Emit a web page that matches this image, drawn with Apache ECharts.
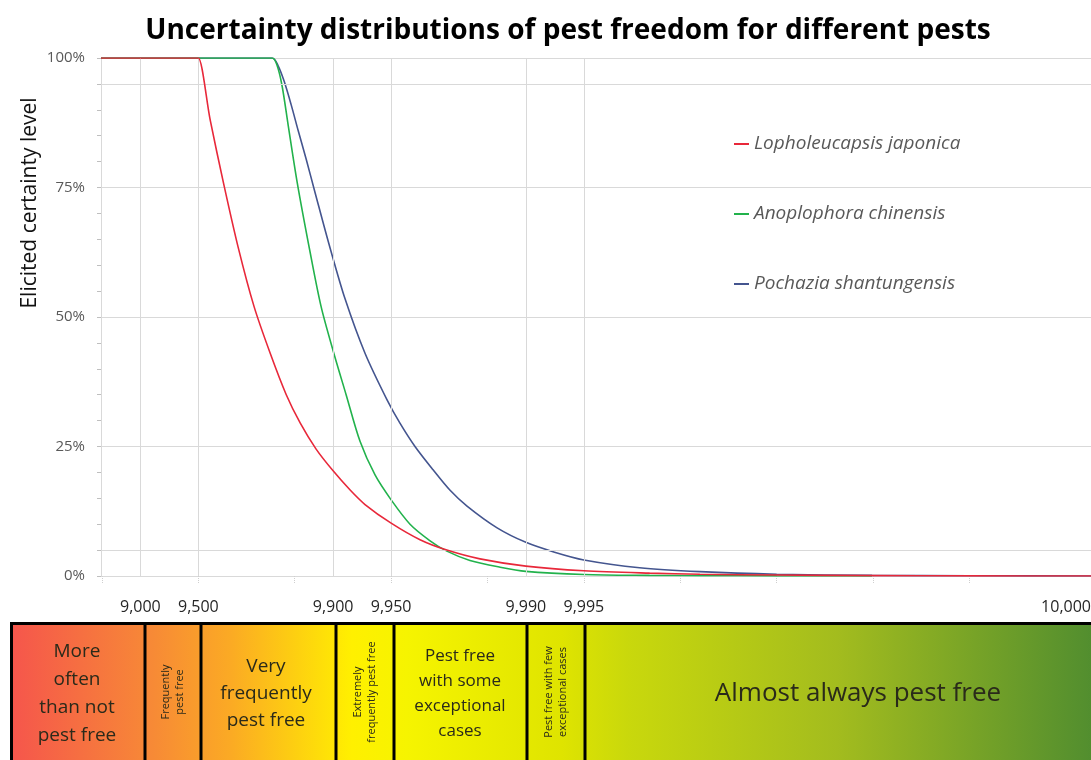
<!DOCTYPE html>
<html>
<head>
<meta charset="utf-8">
<script src="https://cdn.jsdelivr.net/npm/echarts@6/dist/echarts.min.js"></script>
<style>
html,body{margin:0;padding:0;background:#fff;}
#chart{width:1091px;height:760px;}
</style>
</head>
<body>
<div id="chart"></div>
<script>
// ---- data (x = pest-free units out of 10,000; y = elicited certainty, %) ----
const totalUnits = 10000;
const seriesNames = ['Lopholeucapsis japonica', 'Anoplophora chinensis', 'Pochazia shantungensis'];
const redX   = [8400, 9495, 9500, 9566, 9629, 9689, 9743, 9788, 9825, 9852, 9877.5, 9900, 9918.4, 9931.7, 9950, 9964.6, 9974.3, 9982.7, 9990, 9995, 9997.72, 9998.75, 9999.5, 9999.84, 9999.95, 9999.99];
const redY   = [100,  100,  100,  88,   76,   63.5, 52,   43,   35,   29.5, 24.5,   20.3, 16.6,   13.8,   10.2, 7,      5,      3.3,    1.9,  1.0,  0.55,    0.35,    0.18,   0.07,    0.02,    0];
const greenX = [8400, 9793, 9805, 9816.3, 9829, 9846.4, 9868.4, 9884.6, 9900, 9914.4, 9927.5, 9939.4, 9950, 9960.1, 9968.6, 9974.3, 9980.5, 9986.4, 9990, 9995, 9997.72, 9998.75, 9999.5, 9999.84];
const greenY = [100,  100,  98.5, 94.5,   87,   76,     62.5,   52,     43.5, 35,     26,     19.5,   14.7, 10,     6.8,    4.8,    3.0,    1.7,    0.9,  0.3,  0.12,    0.06,    0.02,   0];
const blueX  = [8400, 9793, 9807.2, 9820.6, 9834.9, 9848.2, 9862, 9876, 9895.1, 9913.3, 9931.7, 9947.5, 9955, 9962.4, 9969.7, 9975.2, 9979.8, 9985.9, 9990, 9992.9, 9995, 9997.43, 9998.75, 9999.5, 9999.84, 9999.95, 9999.99];
const blueY  = [100,  100,  98.5,   95.5,   91,     86,     80.5, 74,   64,     53.5,   43,     34,     29.5, 25,     20.5,   16.6,   13.5,   9.3,    6.5,  4.6,    3.1,  1.6,     0.85,    0.35,   0.12,    0.04,    0];
const gridCounts = [9000, 9500, 9900, 9950, 9990, 9995];
const tickLabelCounts = [9000, 9500, 9900, 9950, 9990, 9995, 10000];
const extraYGrid = [5, 95];
const bandLabels = [
  'More\noften\nthan not\npest free',
  'Frequently\npest free',
  'Very\nfrequently\npest free',
  'Extremely\nfrequently pest free',
  'Pest free\nwith some\nexceptional\ncases',
  'Pest free with few\nexceptional cases',
  'Almost always pest free'
];

// axis: number of NOT pest-free units, on an inverted log scale
const axisLeftN = 1600;     // left edge
const axisRightN = 0.0117;  // right edge (shown as 10,000)
const toN = c => Math.max(totalUnits - c, 1e-6);
const pairs = (xs, ys) => xs.map((x, i) => [toN(x), ys[i]]);

const colors = ['#e8283a', '#22b24c', '#44558f'];
const font = "'Open Sans', 'DejaVu Sans', sans-serif";

const chart = echarts.init(document.getElementById('chart'), null, {renderer: 'canvas'});

const lineSeries = [redX, greenX, blueX].map((xs, i) => ({
  name: seriesNames[i],
  type: 'line',
  data: pairs(xs, [redY, greenY, blueY][i]),
  smooth: 0.3,
  showSymbol: false,
  lineStyle: {width: 1.6, color: colors[i]},
  itemStyle: {color: colors[i]},
  z: 5 - i
}));

const gridSeries = {
  type: 'line',
  data: [],
  silent: true,
  markLine: {
    silent: true,
    symbol: 'none',
    label: {show: false},
    lineStyle: {color: '#d9d9d9', width: 1, type: 'solid'},
    data: gridCounts.map(c => ({xAxis: toN(c)})).concat(extraYGrid.map(v => ({yAxis: v}))),
    animation: false
  }
};

// band segment edges (pixels)
const bandEdges = [11, 145, 201, 336, 394, 527, 585, 1100];
const bandTop = 623.5;
const graphics = [];
graphics.push({
  type: 'rect',
  shape: {x: 11.5, y: bandTop, width: 1100, height: 160},
  style: {
    fill: new echarts.graphic.LinearGradient(0, 0, 1, 0, [
      {offset: 0.0, color: '#f5554c'},
      {offset: 0.13, color: '#f78a36'},
      {offset: 0.20, color: '#fbaa24'},
      {offset: 0.31, color: '#fff000'},
      {offset: 0.36, color: '#f6f400'},
      {offset: 0.50, color: '#dfe400'},
      {offset: 0.56, color: '#c9d80c'},
      {offset: 0.75, color: '#a3bc1e'},
      {offset: 1.0, color: '#4b8a30'}
    ]),
    stroke: '#000', lineWidth: 3
  },
  z: 1
});
bandEdges.slice(1, -1).forEach(x => graphics.push({
  type: 'line', shape: {x1: x, y1: bandTop, x2: x, y2: 770},
  style: {stroke: '#000', lineWidth: 3}, z: 2
}));
const horiz = [
  {i: 0, size: 19, lh: 28, cx: 77},
  {i: 2, size: 19, lh: 27, cx: 266},
  {i: 4, size: 17, lh: 25, cx: 460},
  {i: 6, size: 26, lh: 30, cx: 858}
];
horiz.forEach(h => {
  graphics.push({
    type: 'text', x: h.cx, y: 694, z: 3,
    style: {text: bandLabels[h.i], fill: '#2a2a1a', font: h.size + 'px ' + font,
      lineHeight: h.lh, align: 'center', verticalAlign: 'middle'}
  });
});
[1, 3, 5].forEach(i => {
  const cx = (bandEdges[i] + bandEdges[i + 1]) / 2;
  graphics.push({
    type: 'text', x: cx, y: 692, rotation: Math.PI / 2, z: 3,
    style: {text: bandLabels[i], fill: '#2a2a1a', font: '11px ' + font,
      lineHeight: 14, align: 'center', verticalAlign: 'middle'}
  });
});
graphics.push({
  type: 'text', x: 30, y: 203, rotation: Math.PI / 2,
  style: {text: 'Elicited certainty level', fill: '#111', font: '21px ' + font,
    align: 'center', verticalAlign: 'middle'}
});

chart.setOption({
  animation: false,
  backgroundColor: '#fff',
  title: {
    text: 'Uncertainty distributions of pest freedom for different pests',
    left: 563, top: 12, textAlign: 'center',
    textStyle: {fontFamily: "'Open Sans', sans-serif", fontWeight: 'bold', fontSize: 28, color: '#000'}
  },
  legend: {
    orient: 'vertical', left: 729, top: 129,
    itemWidth: 15, itemHeight: 2, itemGap: 50, icon: 'rect',
    textStyle: {fontFamily: font, fontStyle: 'italic', fontSize: 19, color: '#595959', lineHeight: 20},
    data: seriesNames
  },
  grid: {left: 101, right: 0, top: 58, bottom: 184, containLabel: false, outerBoundsMode: 'none'},
  xAxis: {
    type: 'log', logBase: 10, inverse: true, min: axisRightN, max: axisLeftN,
    axisLine: {show: false},
    splitLine: {show: false},
    axisTick: {show: true, customValues: [1585, 500, 158.5, 50, 15.85, 5, 1.585, 0.5, 0.1585, 0.05], length: 8, inside: false,
      lineStyle: {color: '#cfcfcf', type: 'dotted', width: 1}},
    axisLabel: {
      customValues: tickLabelCounts.map(c => c === totalUnits ? axisRightN : toN(c)),
      formatter: v => Math.round(totalUnits - v).toLocaleString('en-US'),
      margin: 23, fontFamily: font, fontSize: 16, color: '#262626',
      alignMinLabel: 'center', alignMaxLabel: 'right'
    }
  },
  yAxis: {
    type: 'value', min: 0, max: 100, interval: 25,
    axisLine: {show: true, lineStyle: {color: '#d9d9d9'}},
    axisTick: {show: true, length: 4, lineStyle: {color: '#bfbfbf'}},
    minorTick: {show: true, splitNumber: 5, length: 4, lineStyle: {color: '#bfbfbf'}},
    splitLine: {show: true, lineStyle: {color: '#d9d9d9'}},
    axisLabel: {formatter: v => v + '%', margin: 16, fontFamily: font, fontSize: 15, color: '#595959'}
  },
  series: [gridSeries].concat(lineSeries),
  graphic: graphics
});
</script>
</body>
</html>
